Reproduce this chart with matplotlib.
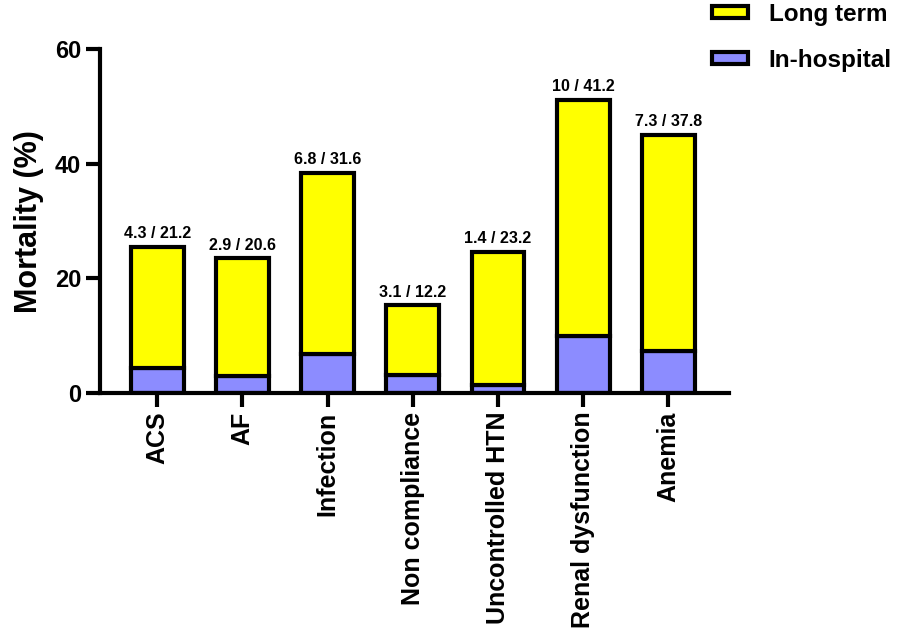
import matplotlib
matplotlib.use("Agg")
import matplotlib.pyplot as plt
from matplotlib.patches import Patch

plt.rcParams['font.family'] = ['Liberation Sans', 'DejaVu Sans']
plt.rcParams['font.weight'] = 'bold'

# Данные
categories = ['ACS', 'AF', 'Infection', 'Non compliance',
              'Uncontrolled HTN', 'Renal dysfunction', 'Anemia']
in_hospital = [4.3, 2.9, 6.8, 3.1, 1.4, 10, 7.3]
long_term = [21.2, 20.6, 31.6, 12.2, 23.2, 41.2, 37.8]
bar_labels = ['4.3 / 21.2', '2.9 / 20.6', '6.8 / 31.6', '3.1 / 12.2',
              '1.4 / 23.2', '10 / 41.2', '7.3 / 37.8']

purple = '#8C8CFF'
yellow = '#FFFF00'

fig = plt.figure(figsize=(8.98, 6.38), dpi=100)
ax = fig.add_axes([0.1114, 0.384, 0.7004, 0.539])

x = list(range(len(categories)))
ax.bar(x, in_hospital, width=0.62, color=purple, edgecolor='black',
       linewidth=3, label='In-hospital')
ax.bar(x, long_term, width=0.62, bottom=in_hospital, color=yellow,
       edgecolor='black', linewidth=3, label='Long term')

# подписи над столбцами
for i in x:
    top = in_hospital[i] + long_term[i]
    ax.text(i, top + 1.0, bar_labels[i], ha='center', va='bottom',
            fontsize=11.5, fontweight='bold')

ax.set_xlim(-0.67, 6.71)
ax.set_ylim(0, 60)
ax.set_yticks([0, 20, 40, 60])
ax.set_xticks(x)
ax.set_xticklabels(categories, rotation=90, fontsize=18, fontweight='bold')
ax.tick_params(axis='y', labelsize=17, length=10, width=3, direction='out')
ax.tick_params(axis='x', length=10, width=3, direction='out')
for lab in ax.get_yticklabels():
    lab.set_fontweight('bold')

ax.spines['top'].set_visible(False)
ax.spines['right'].set_visible(False)
ax.spines['left'].set_linewidth(3)
ax.spines['bottom'].set_linewidth(3)

ax.set_ylabel('Mortality (%)', fontsize=22, fontweight='bold', labelpad=8)

handles = [Patch(facecolor=yellow, edgecolor='black', linewidth=3, label='Long term'),
           Patch(facecolor=purple, edgecolor='black', linewidth=3, label='In-hospital')]
fig.legend(handles=handles, loc='upper left', bbox_to_anchor=(0.768, 1.03),
           frameon=False, prop={'size': 17.5, 'weight': 'bold'},
           handlelength=1.5, handleheight=0.4, handletextpad=0.85,
           labelspacing=0.95)

plt.savefig('out.png', dpi=100)
